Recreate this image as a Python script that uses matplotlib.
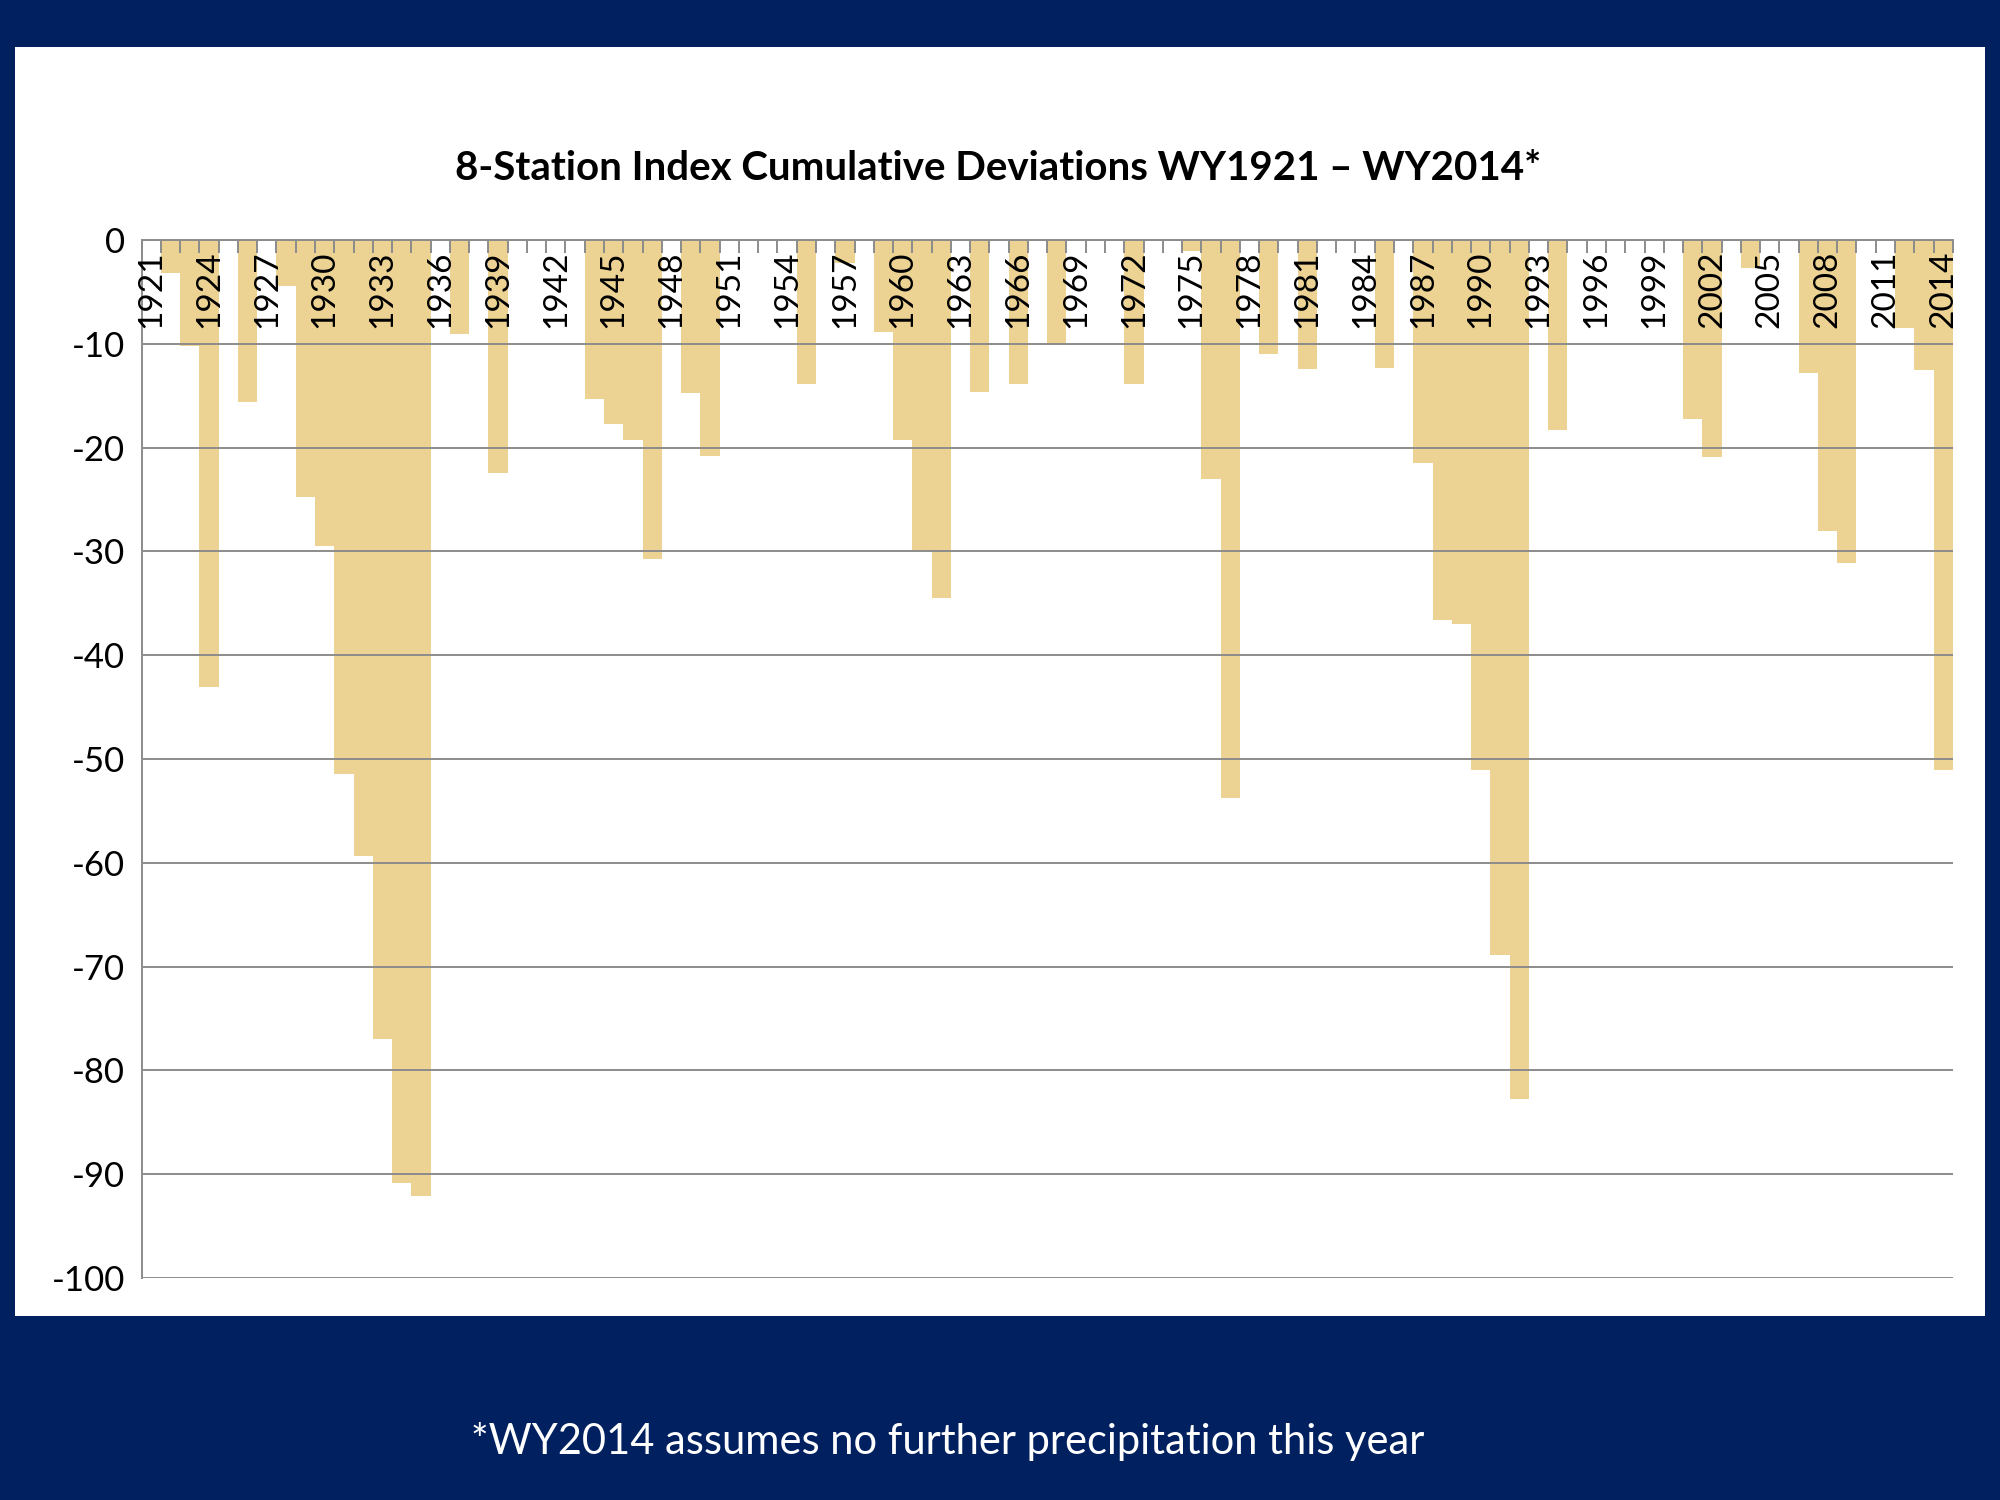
import matplotlib
matplotlib.use("Agg")
import matplotlib.pyplot as plt
import numpy as np

years = list(range(1921, 2015))
values = [
    0, -3.2, -10.2, -43.1, 0, -15.6, 0, -4.4, -24.8, -29.5,      # 1921-1930
    -51.4, -59.3, -77.0, -90.8, -92.1, 0, -9.1, 0, -22.4, 0,     # 1931-1940
    0, 0, 0, -15.3, -17.7, -19.3, -30.7, 0, -14.7, -20.8,        # 1941-1950
    0, 0, 0, 0, -13.9, 0, -2.2, 0, -8.9, -19.3,                  # 1951-1960
    -30.0, -34.5, 0, -14.6, 0, -13.9, 0, -10.1, 0, 0,            # 1961-1970
    0, -13.9, 0, 0, -1.1, -23.0, -53.8, 0, -11.0, 0,             # 1971-1980
    -12.4, 0, 0, 0, -12.3, 0, -21.5, -36.6, -37.0, -51.1,        # 1981-1990
    -68.9, -82.8, 0, -18.3, 0, 0, 0, 0, 0, 0,                    # 1991-2000
    -17.2, -20.9, 0, -2.7, 0, 0, -12.8, -28.0, -31.1, 0,         # 2001-2010
    0, -8.5, -12.5, -51.1,                                       # 2011-2014
]
label_years = years[::3]
title = "8-Station Index Cumulative Deviations WY1921 \u2013 WY2014*"
footnote = "*WY2014 assumes no further precipitation this year"

navy = "#002060"
fig = plt.figure(figsize=(20, 15), dpi=100, facecolor=navy)
# white panel
panel = fig.add_axes([0.0077, 0.123, 0.9846, 0.8456])
panel.set_facecolor("white")
panel.set_xticks([]); panel.set_yticks([])
for s in panel.spines.values():
    s.set_visible(False)

ax = fig.add_axes([0.0708, 0.148, 0.9056, 0.692])
ax.set_facecolor("none")
x = np.arange(len(years))
ax.bar(x, values, width=1.0, color="#EDD393", edgecolor="none", zorder=2)
ax.set_xlim(-0.5, len(years) - 0.5)
ax.set_ylim(-100, 0)
ax.set_yticks(np.arange(-100, 1, 10))
ax.set_yticklabels([str(v) for v in range(-100, 1, 10)], fontsize=25, family="Lato")
ax.yaxis.grid(True, color="#8c8c8c", linewidth=1.4, zorder=1)
ax.tick_params(axis="y", length=0, pad=12)
ax.set_xticks(np.arange(-0.5, len(years) + 0.5, 1))
ax.tick_params(axis="x", top=True, bottom=False, direction="in", length=9,
               color="#8c8c8c", width=1.4, labelbottom=False, labeltop=False)
for side in ["bottom", "right"]:
    ax.spines[side].set_visible(False)
for side in ["top", "left"]:
    ax.spines[side].set_color("#8c8c8c")
    ax.spines[side].set_linewidth(1.4)
    ax.spines[side].set_zorder(3)
ax.set_axisbelow(False)
for yr in label_years:
    ax.text(years.index(yr), -1.0, str(yr), rotation=90, ha="center", va="top",
            fontsize=24, family="Lato", zorder=4)

fig.text(0.499, 0.888, title, ha="center", va="center", fontsize=29,
         fontweight="bold", family="Lato", color="black")
fig.text(0.474, 0.039, footnote, ha="center", va="center", fontsize=30,
         family="Lato", color="white")
fig.savefig("out.png", dpi=100, facecolor=navy)
